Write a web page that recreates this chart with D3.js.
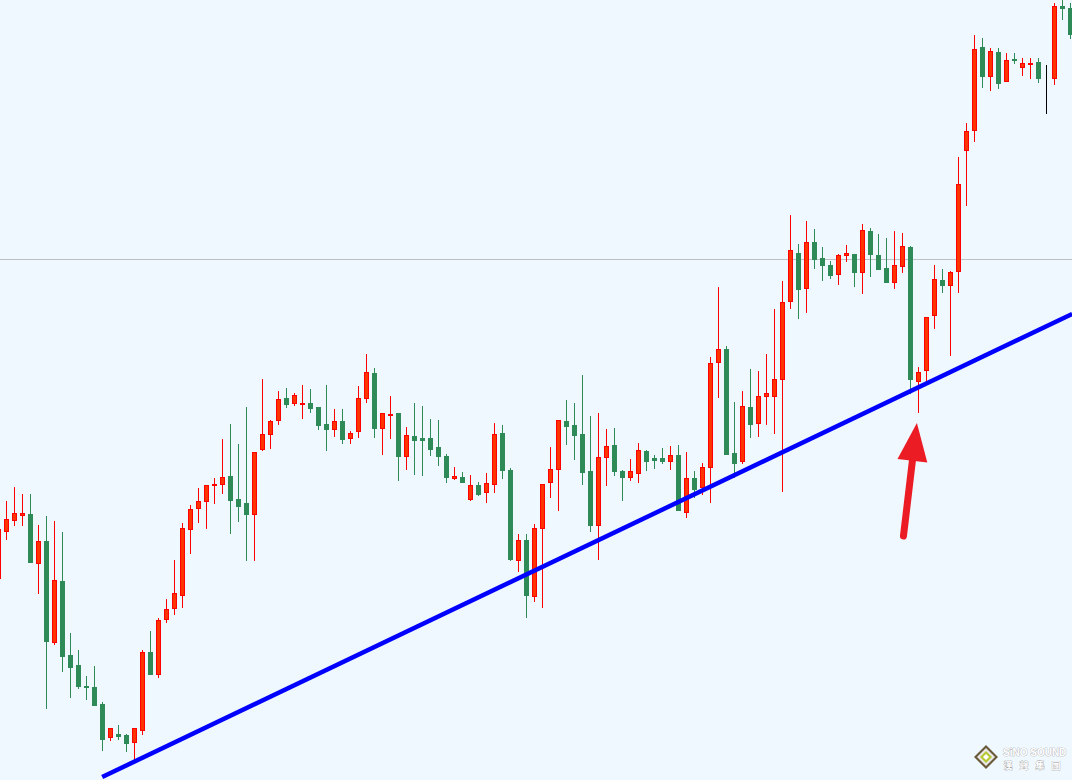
<!DOCTYPE html>
<html>
<head>
<meta charset="utf-8">
<script src="https://cdn.jsdelivr.net/npm/d3@7/dist/d3.min.js"></script>
<style>
  html, body { margin: 0; padding: 0; background: #f0f8ff; overflow: hidden; }
  svg { display: block; }
</style>
</head>
<body>
<svg id="chart" width="1072" height="780"></svg>
<script>
// ---- Data (price per bar) ----
const open = [1.1202,1.1249,1.1260,1.1265,1.1266,1.1217,1.1239,1.1138,1.1199,1.1125,
1.1115,1.1094,1.1093,1.1076,1.1043,1.1046,1.1045,1.1038,1.1050,1.1128,
1.1106,1.1161,1.1172,1.1185,1.1251,1.1272,1.1279,1.1295,1.1296,1.1304,
1.1281,1.1277,1.1266,1.1331,1.1346,1.1360,1.1382,1.1377,1.1376,1.1377,
1.1373,1.1356,1.1351,1.1359,1.1342,1.1349,1.1382,1.1407,1.1352,1.1365,
1.1367,1.1324,1.1344,1.1342,1.1342,1.1333,1.1324,1.1302,1.1303,1.1281,
1.1295,1.1288,1.1296,1.1347,1.1310,1.1220,1.1240,1.1184,1.1252,1.1298,
1.1311,1.1359,1.1355,1.1346,1.1309,1.1255,1.1323,1.1335,1.1309,1.1303,
1.1307,1.1329,1.1322,1.1322,1.1319,1.1325,1.1268,1.1302,1.1293,1.1313,
1.1418,1.1431,1.1327,1.1319,1.1373,1.1357,1.1384,1.1384,1.1401,1.1479,
1.1527,1.1492,1.1538,1.1522,1.1515,1.1506,1.1525,1.1526,1.1508,1.1549,
1.1525,1.1512,1.1498,1.1514,1.1533,1.1399,1.1410,1.1465,1.1500,1.1495,
1.1509,1.1630,1.1650,1.1733,1.1704,1.1728,1.1699,1.1721,1.1713,1.1716,
1.1718,1.1703,1.1702,1.1774,1.1772];
const high = [1.1251,1.1279,1.1293,1.1286,1.1286,1.1255,1.1264,1.1259,1.1248,1.1147,
1.1130,1.1104,1.1114,1.1078,1.1052,1.1055,1.1046,1.1052,1.1130,1.1149,
1.1162,1.1181,1.1220,1.1257,1.1275,1.1292,1.1295,1.1302,1.1341,1.1356,
1.1336,1.1373,1.1328,1.1401,1.1360,1.1389,1.1392,1.1387,1.1395,1.1391,
1.1373,1.1395,1.1371,1.1371,1.1349,1.1394,1.1426,1.1412,1.1367,1.1384,
1.1367,1.1353,1.1377,1.1374,1.1361,1.1360,1.1326,1.1313,1.1308,1.1305,
1.1298,1.1307,1.1357,1.1355,1.1312,1.1246,1.1246,1.1256,1.1296,1.1333,
1.1360,1.1380,1.1377,1.1405,1.1364,1.1367,1.1351,1.1352,1.1310,1.1321,
1.1337,1.1330,1.1325,1.1332,1.1334,1.1335,1.1328,1.1309,1.1317,1.1423,
1.1493,1.1434,1.1378,1.1389,1.1411,1.1409,1.1426,1.1471,1.1499,1.1565,
1.1536,1.1559,1.1551,1.1533,1.1519,1.1526,1.1535,1.1526,1.1556,1.1552,
1.1546,1.1542,1.1549,1.1547,1.1534,1.1413,1.1463,1.1515,1.1511,1.1509,
1.1623,1.1657,1.1745,1.1742,1.1732,1.1732,1.1727,1.1727,1.1722,1.1722,
1.1722,1.1715,1.1777,1.1782,1.1777];
const low = [1.1202,1.1241,1.1255,1.1255,1.1218,1.1187,1.1072,1.1136,1.1109,1.1083,
1.1092,1.1081,1.1075,1.1030,1.1040,1.1041,1.1029,1.1020,1.1046,1.1106,
1.1103,1.1158,1.1166,1.1173,1.1227,1.1258,1.1252,1.1277,1.1287,1.1247,
1.1259,1.1220,1.1220,1.1330,1.1332,1.1356,1.1373,1.1375,1.1362,1.1368,
1.1351,1.1330,1.1344,1.1337,1.1337,1.1343,1.1378,1.1343,1.1326,1.1342,
1.1300,1.1311,1.1306,1.1305,1.1325,1.1315,1.1298,1.1301,1.1298,1.1280,
1.1285,1.1278,1.1288,1.1302,1.1220,1.1209,1.1163,1.1179,1.1173,1.1283,
1.1270,1.1336,1.1321,1.1296,1.1249,1.1221,1.1295,1.1305,1.1280,1.1300,
1.1298,1.1310,1.1312,1.1317,1.1311,1.1270,1.1263,1.1283,1.1286,1.1278,
1.1383,1.1326,1.1303,1.1317,1.1343,1.1344,1.1356,1.1347,1.1289,1.1472,
1.1462,1.1468,1.1512,1.1500,1.1502,1.1496,1.1519,1.1494,1.1487,1.1504,
1.1511,1.1498,1.1492,1.1508,1.1387,1.1368,1.1397,1.1452,1.1488,1.1425,
1.1488,1.1575,1.1639,1.1693,1.1690,1.1692,1.1699,1.1717,1.1705,1.1702,
1.1698,1.1667,1.1696,1.1761,1.1742];
const close = [1.1251,1.1261,1.1267,1.1267,1.1218,1.1239,1.1139,1.1200,1.1124,1.1113,
1.1094,1.1093,1.1075,1.1041,1.1052,1.1044,1.1037,1.1052,1.1128,1.1106,
1.1160,1.1171,1.1187,1.1252,1.1271,1.1279,1.1295,1.1296,1.1303,1.1280,
1.1274,1.1266,1.1328,1.1346,1.1359,1.1381,1.1376,1.1385,1.1377,1.1372,
1.1355,1.1351,1.1359,1.1341,1.1347,1.1382,1.1408,1.1352,1.1367,1.1366,
1.1324,1.1345,1.1340,1.1340,1.1331,1.1324,1.1303,1.1304,1.1298,1.1295,
1.1286,1.1297,1.1346,1.1310,1.1221,1.1240,1.1185,1.1252,1.1296,1.1311,
1.1360,1.1354,1.1345,1.1308,1.1255,1.1323,1.1334,1.1309,1.1303,1.1309,
1.1330,1.1319,1.1320,1.1319,1.1325,1.1270,1.1302,1.1291,1.1313,1.1417,
1.1431,1.1326,1.1317,1.1374,1.1356,1.1384,1.1387,1.1401,1.1478,1.1530,
1.1491,1.1538,1.1521,1.1515,1.1505,1.1525,1.1527,1.1508,1.1550,1.1526,
1.1511,1.1498,1.1515,1.1534,1.1401,1.1408,1.1463,1.1501,1.1495,1.1508,
1.1596,1.1649,1.1731,1.1704,1.1729,1.1697,1.1720,1.1720,1.1717,1.1717,
1.1702,1.1703,1.1774,1.1772,1.1746];

const levelPrice = 1.1521;                       // grey horizontal level
const trendIdx = [12.96, 134.21];                // blue trend line (bar index)
const trendPrice = [1.1003, 1.1466];             // blue trend line (price)
const arrowIdx = [113.12, 114.8];                // red arrow tail -> tip (bar index)
const arrowPrice = [1.1244, 1.1357];             // red arrow tail -> tip (price)
const logoTitle = "SiNO SOUND";
const logoSub = ["漢", "聲", "集", "團"];

// ---- Chart ----
const W = 1072, H = 780;
const svg = d3.select("#chart");
svg.append("rect").attr("width", W).attr("height", H).attr("fill", "#f0f8ff");

const n = open.length;
const x = d3.scaleLinear().domain([0, n - 1]).range([-1.5, -1.5 + 8 * (n - 1)]);
const y = d3.scaleLinear().domain([1.1000, 1.1780]).range([H, 0]);

// horizontal level line
const ly = Math.round(y(levelPrice)) + 0.5;
svg.append("line").attr("x1", 0).attr("x2", W).attr("y1", ly).attr("y2", ly)
  .attr("stroke", "#c0c0c0").attr("stroke-width", 1);

const bars = d3.range(n).map(i => ({ i, o: open[i], h: high[i], l: low[i], c: close[i] }));
const colorOf = d => d.c > d.o ? "#ff0000" : (d.c < d.o ? "#2e8b57" : "#000000");
const fillOf = d => d.c > d.o ? "#ff3300" : (d.c < d.o ? "#2e8b57" : "#000000");

const g = svg.append("g");
const cand = g.selectAll("g.c").data(bars).join("g").attr("class", "c");

cand.append("line")
  .attr("x1", d => Math.floor(x(d.i)) + 0.5)
  .attr("x2", d => Math.floor(x(d.i)) + 0.5)
  .attr("y1", d => Math.round(y(d.h)))
  .attr("y2", d => Math.round(y(d.l)) + 1)
  .attr("stroke", colorOf).attr("stroke-width", 1);

cand.append("rect")
  .attr("x", d => Math.floor(x(d.i)) - 2 + 0.5)
  .attr("width", 4)
  .attr("y", d => Math.round(y(Math.max(d.o, d.c))) + 0.5)
  .attr("height", d => Math.max(0, Math.round(y(Math.min(d.o, d.c))) - Math.round(y(Math.max(d.o, d.c)))))
  .attr("fill", fillOf)
  .attr("stroke", colorOf).attr("stroke-width", 1);

// blue trend line
svg.append("line")
  .attr("x1", x(trendIdx[0])).attr("y1", y(trendPrice[0]))
  .attr("x2", x(trendIdx[1])).attr("y2", y(trendPrice[1]))
  .attr("stroke", "#0000ff").attr("stroke-width", 4.5);

// red arrow
const ax0 = x(arrowIdx[0]), ay0 = y(arrowPrice[0]);
const ax1 = x(arrowIdx[1]), ay1 = y(arrowPrice[1]);
const ang = Math.atan2(ay1 - ay0, ax1 - ax0);
const headLen = 38, headHalf = 15;
const bx = ax1 - headLen * Math.cos(ang), by = ay1 - headLen * Math.sin(ang);
const px = -Math.sin(ang), py = Math.cos(ang);
svg.append("line")
  .attr("x1", ax0).attr("y1", ay0)
  .attr("x2", bx + 4 * Math.cos(ang)).attr("y2", by + 4 * Math.sin(ang))
  .attr("stroke", "#ec1c24").attr("stroke-width", 7).attr("stroke-linecap", "round");
svg.append("path")
  .attr("d", `M${ax1},${ay1} L${bx + headHalf * px},${by + headHalf * py} L${bx - headHalf * px},${by - headHalf * py} Z`)
  .attr("fill", "#ec1c24");

// logo
const logo = svg.append("g").attr("transform", "translate(986,757)");
logo.append("path").attr("d", "M0,-12 L12,0 L0,12 L-12,0 Z").attr("fill", "#6b5a3a");
logo.append("path").attr("d", "M0,-9 L9,0 L0,9 L-9,0 Z").attr("fill", "#e8e8e8");
logo.append("path").attr("d", "M0,-6 L6,0 L0,6 L-6,0 Z").attr("fill", "#b8c832");
logo.append("path").attr("d", "M0,-3 L3,0 L0,3 L-3,0 Z").attr("fill", "#ffffff");
const tstyle = t => t.attr("fill", "#ffffff").attr("stroke", "#9a9a9a").attr("stroke-width", 0.6)
  .attr("paint-order", "stroke").attr("font-family", "'Liberation Sans', Arial, sans-serif").attr("font-weight", "bold");
tstyle(svg.append("text").attr("x", 1003).attr("y", 756).attr("font-size", 10)
  .text(logoTitle));
svg.selectAll("text.sub").data(logoSub).join("text").attr("class", "sub")
  .attr("x", (d, k) => 1008 + k * 16).attr("y", 769).attr("text-anchor", "middle")
  .attr("font-size", 9).call(tstyle)
  .style("font-family", "'Noto Sans CJK TC', sans-serif").text(d => d);
</script>
</body>
</html>
